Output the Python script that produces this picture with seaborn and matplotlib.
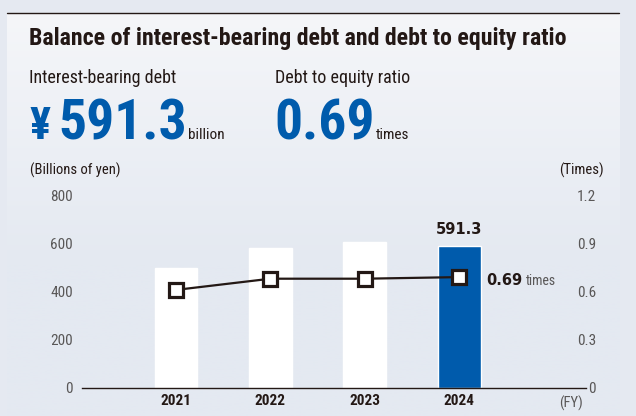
import numpy as np
import pandas as pd
import matplotlib
matplotlib.use("Agg")
import matplotlib.pyplot as plt
from matplotlib.lines import Line2D
from matplotlib import font_manager as fm
import seaborn as sns

# ---- data -------------------------------------------------------------
years = ["2021", "2022", "2023", "2024"]
debt = [500.0, 583.0, 607.0, 591.3]          # interest-bearing debt, billions of yen
de_ratio = [0.61, 0.68, 0.68, 0.69]          # debt to equity ratio, times
bar_colors = ["#ffffff", "#ffffff", "#ffffff", "#005bac"]
left_ticks = [0, 200, 400, 600, 800]
left_tick_labels = ["0", "200", "400", "600", "800"]
right_ticks = [0, 0.3, 0.6, 0.9, 1.2]
right_tick_labels = ["0", "0.3", "0.6", "0.9", "1.2"]

# ---- styling ----------------------------------------------------------
W, H = 636, 416
INK = "#231815"
GREY = "#595757"
BLUE = "#005bac"

sns.set_theme(style="white")
names = {f.name for f in fm.fontManager.ttflist}
COND = next((n for n in ["Roboto Condensed", "Nimbus Sans Narrow", "Archivo Narrow",
                         "PT Sans Narrow", "Pragati Narrow", "Barlow Condensed"] if n in names),
            "Liberation Sans")
plt.rcParams["font.family"] = [COND, "DejaVu Sans"]


def fx(px):
    return px / W


def fy(py):
    return 1 - py / H


fig = plt.figure(figsize=(W / 100, H / 100), dpi=100)
fig.patch.set_facecolor("#e5e9f1")

# soft vertical gradient panel
bg = fig.add_axes([fx(7), 0, fx(620 - 7), (H - 12.5) / H])
grad = np.linspace(0, 1, 256).reshape(-1, 1)
top_c = np.array([0xf5, 0xf6, 0xf9]) / 255
bot_c = np.array([0xe4, 0xe9, 0xf1]) / 255
img = top_c + (bot_c - top_c) * np.clip(grad * 1.6, 0, 1)[..., None]
bg.imshow(img.reshape(256, 1, 3), aspect="auto", extent=[0, 1, 0, 1])
bg.set_axis_off()
fig.add_artist(Line2D([fx(7), fx(619)], [fy(12.5), fy(12.5)], color=INK, lw=1.0))

# ---- header -----------------------------------------------------------
fig.text(fx(29), fy(45), "Balance of interest-bearing debt and debt to equity ratio",
         fontsize=17.2, fontweight="bold", color=INK, va="baseline", ha="left")
fig.text(fx(29), fy(83), "Interest-bearing debt", fontsize=13, color=INK, va="baseline")
fig.text(fx(275), fy(83), "Debt to equity ratio", fontsize=13, color=INK, va="baseline")

base = fy(139)
fig.text(fx(29), base, "¥", fontsize=32, fontweight="bold", color=BLUE, va="baseline")
fig.text(fx(58.5), base, f"{debt[-1]:.1f}", fontsize=40, fontweight="bold", color=BLUE, va="baseline")
fig.text(fx(188), base, "billion", fontsize=11, color=INK, va="baseline")
fig.text(fx(274.5), base, f"{de_ratio[-1]:.2f}", fontsize=40, fontweight="bold", color=BLUE, va="baseline")
fig.text(fx(376), base, "times", fontsize=11, color=INK, va="baseline")

# ---- chart ------------------------------------------------------------
ax = fig.add_axes([fx(82), fy(387.5), fx(586 - 82), 192 / H])
ax.patch.set_alpha(0)
df = pd.DataFrame({"year": years, "debt": debt, "ratio": de_ratio})
sns.barplot(data=df, x="year", y="debt", hue="year", palette=bar_colors,
            legend=False, width=0.455, saturation=1, ax=ax, zorder=2)
ax.set_xlim(-0.995, 4.34)
ax.set_ylim(0, 800)
ax.set_yticks(left_ticks, left_tick_labels)
ax.set_xlabel("")
ax.set_ylabel("")
for s in ("top", "left", "right"):
    ax.spines[s].set_visible(False)
ax.spines["bottom"].set_color(INK)
ax.spines["bottom"].set_linewidth(1.0)
ax.tick_params(axis="y", length=0, pad=6.5, labelsize=11, labelcolor=GREY)
ax.tick_params(axis="x", length=0, pad=5, labelsize=11, labelcolor=INK)
for lab in ax.get_xticklabels():
    lab.set_fontweight("bold")

ax.annotate(f"{debt[-1]:.1f}", xy=(3, debt[-1]), xytext=(0, 8), textcoords="offset points",
            ha="center", va="baseline", fontsize=10.5, fontweight="bold", color=INK,
            family="DejaVu Sans")

ax2 = ax.twinx()
ax2.patch.set_alpha(0)
pos = np.arange(len(years))
sns.lineplot(x=pos, y=de_ratio, ax=ax2, color=INK, lw=1.6, marker="s", markersize=9.5,
             markerfacecolor="white", markeredgecolor=INK, markeredgewidth=2.3, zorder=3)
ax2.set_ylim(0, 1.2)
ax2.set_yticks(right_ticks, right_tick_labels)
for s in ("top", "left", "right", "bottom"):
    ax2.spines[s].set_visible(False)
ax2.tick_params(axis="y", length=0, pad=7.2, labelsize=11, labelcolor=GREY)
for lab in ax2.get_yticklabels():
    lab.set_ha("right")
ax2.set_ylabel("")

ax2.annotate(f"{de_ratio[-1]:.2f}", xy=(3, de_ratio[-1]), xytext=(19, -6), textcoords="offset points",
             ha="left", va="baseline", fontsize=10.5, fontweight="bold", color=INK,
             family="DejaVu Sans")
ax2.annotate("times", xy=(3, de_ratio[-1]), xytext=(47.5, -6), textcoords="offset points",
             ha="left", va="baseline", fontsize=10, color=GREY)

# unit captions
fig.text(fx(30), fy(170.5), "(Billions of yen)", fontsize=10.5, color=INK, va="center")
fig.text(fx(604), fy(170.5), "(Times)", fontsize=10.5, color=INK, va="center", ha="right")
fig.text(fx(583), fy(403), "(FY)", fontsize=10.5, color=GREY, va="center", ha="right")

fig.savefig("out.png", dpi=100, facecolor=fig.get_facecolor())
